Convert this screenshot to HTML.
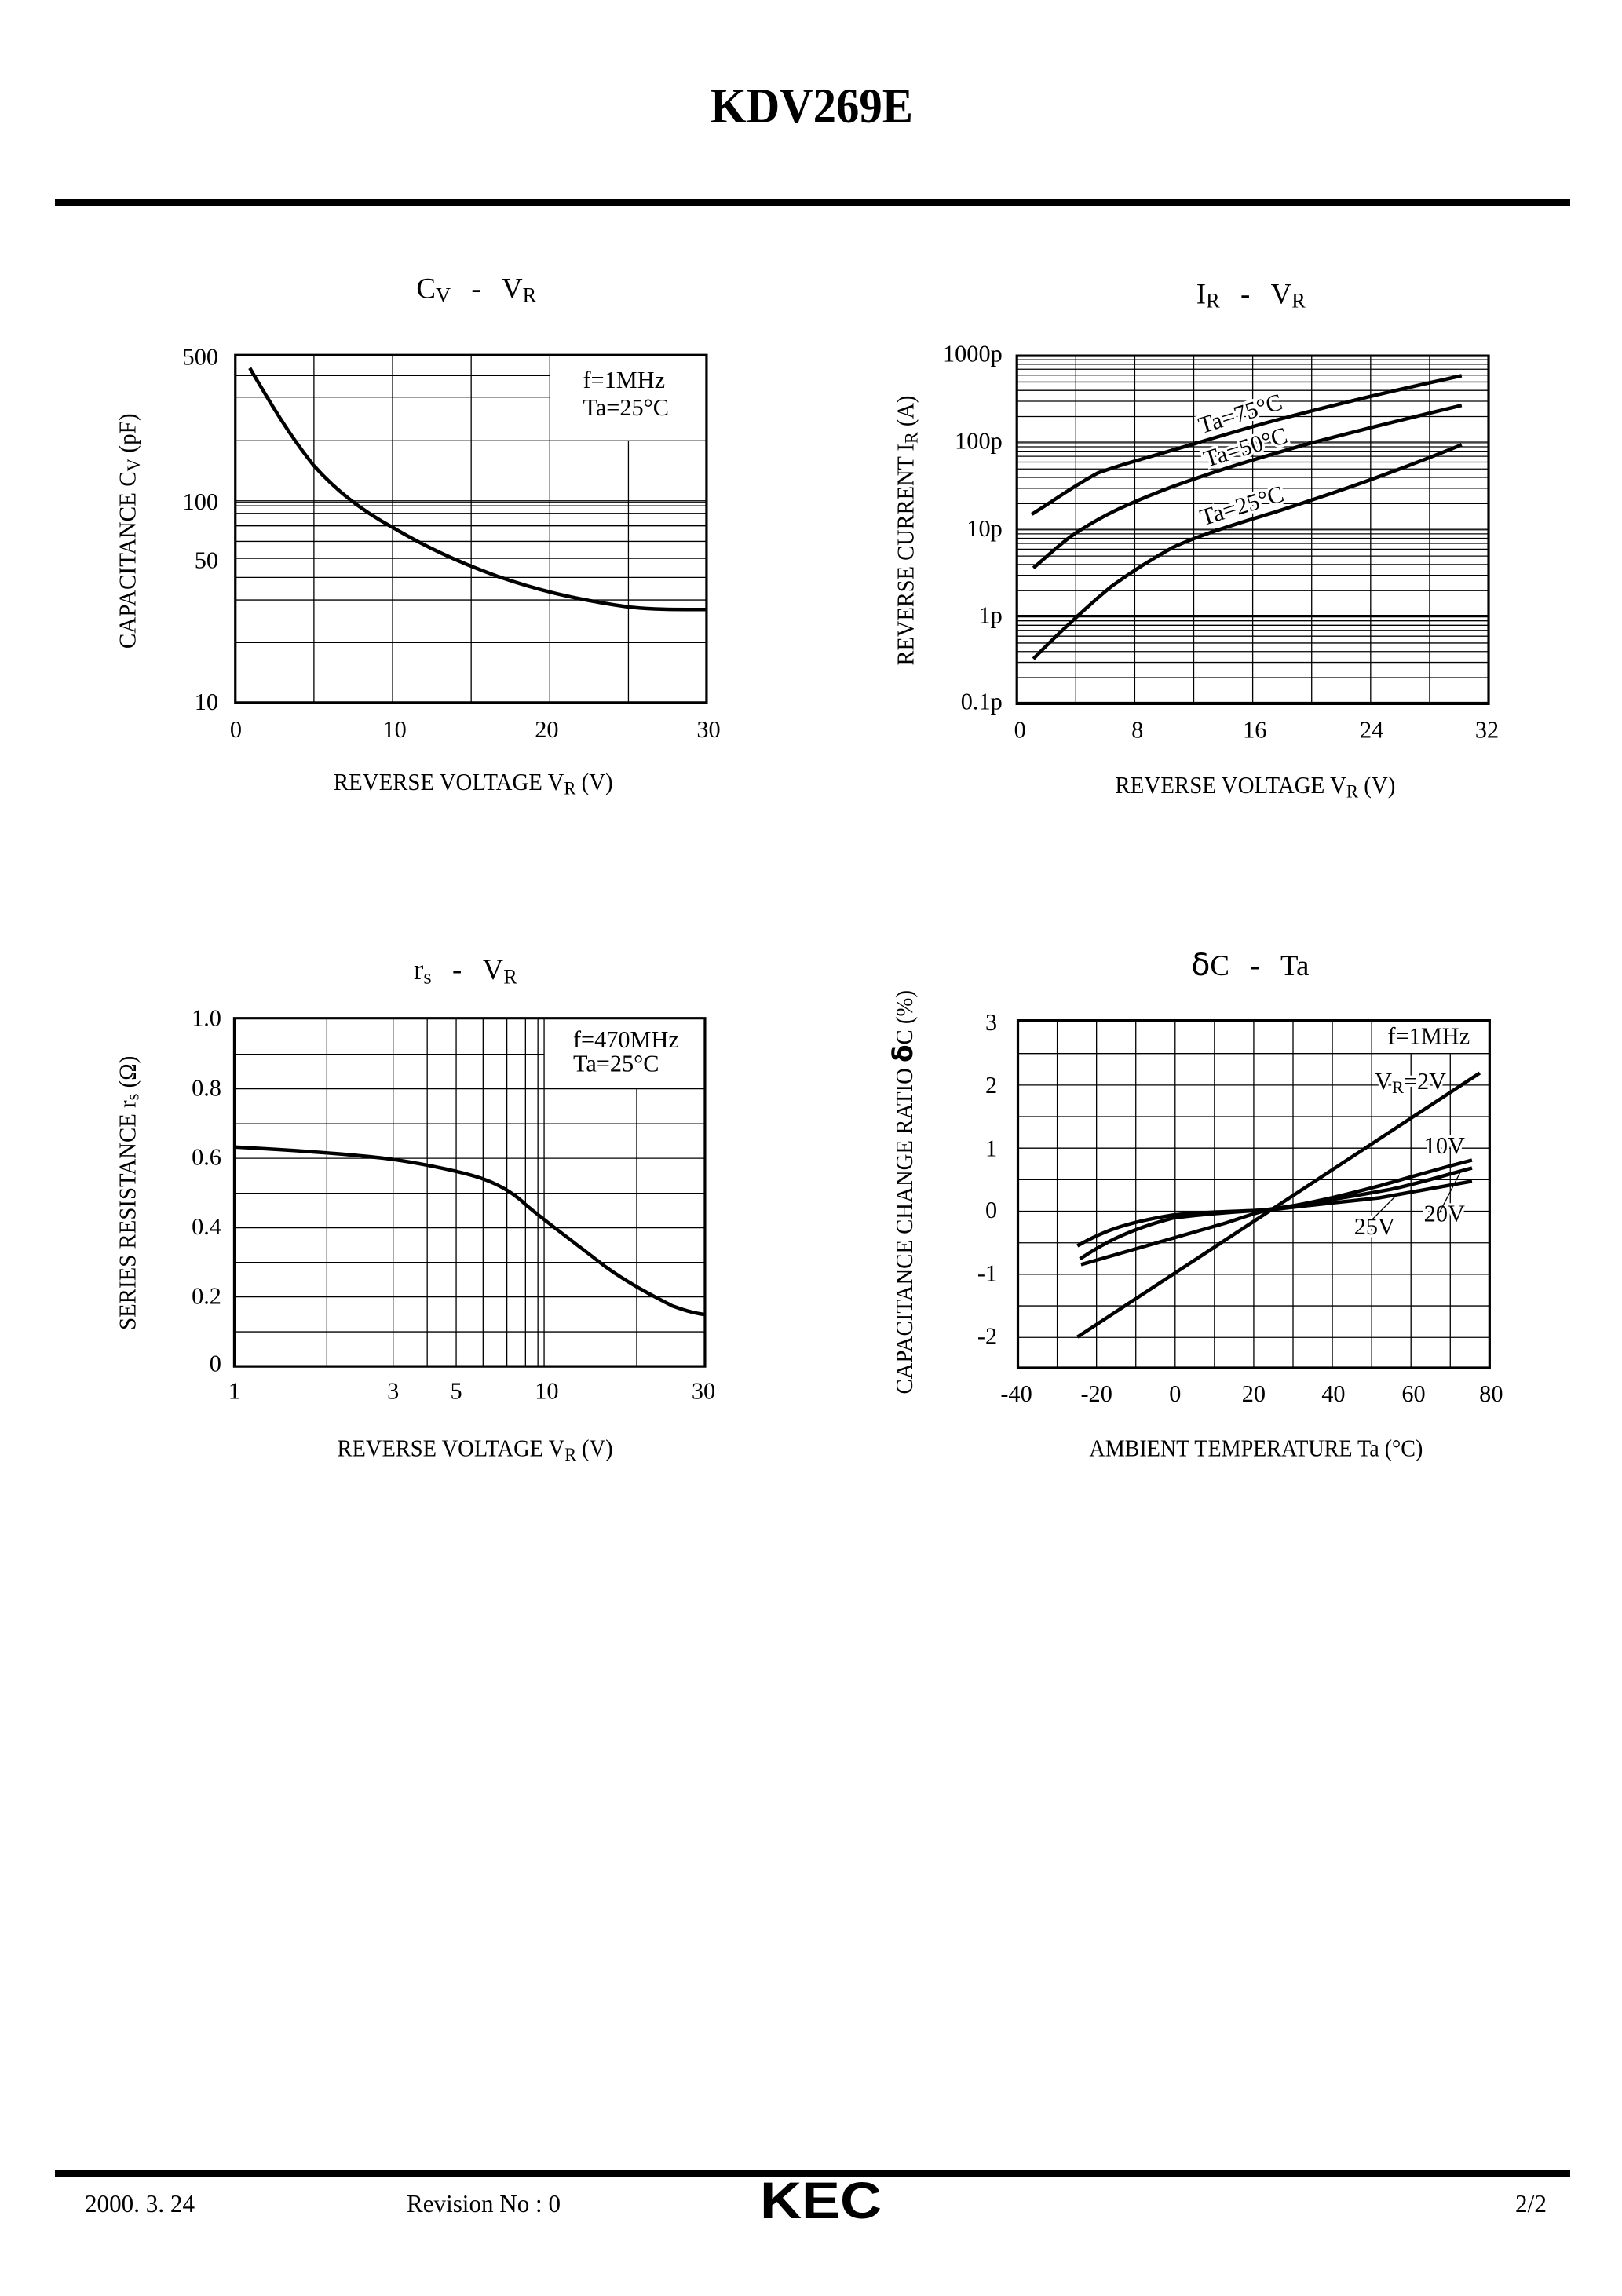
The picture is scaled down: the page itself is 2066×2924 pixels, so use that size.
<!DOCTYPE html>
<html><head><meta charset="utf-8"><style>
html,body{margin:0;padding:0;background:#fff}
svg{display:block}
text{font-family:"Liberation Serif",serif;fill:#000}
.g{stroke:#000;stroke-width:1.3;fill:none}
.b{stroke:#000;stroke-width:3.2;fill:none}
.c{stroke:#000;stroke-width:4.5;fill:none;stroke-linejoin:round}
.t{font-size:46px}
.w{stroke:#fff;stroke-width:10px;paint-order:stroke}
</style></head><body>
<svg width="2066" height="2924" viewBox="0 0 2066 2924" xmlns="http://www.w3.org/2000/svg">
<rect width="2066" height="2924" fill="#fff"/>
<text x="1034" y="156" font-size="64" font-weight="bold" text-anchor="middle" textLength="258" lengthAdjust="spacingAndGlyphs">KDV269E</text>
<rect x="70" y="253" width="1930" height="9" fill="#000"/>

<!-- Chart 1 geometry -->
<g transform="translate(0,0) scale(0.6588,0.6378)">
<g class="g">
<path vector-effect="non-scaling-stroke" d="M455 750H1063M455 793H1063M455 880H1366M455 1000H1366M455 1003H1366M455 1010H1366M455 1025H1366M455 1050H1366M455 1081H1366M455 1115H1366M455 1153H1366M455 1198H1366M455 1283H1366"/>
<path vector-effect="non-scaling-stroke" d="M607 709V1403M759 709V1403M911 709V1403M1063 709V1403M1215 880V1403"/>
</g>
<rect vector-effect="non-scaling-stroke" class="b" x="455" y="709" width="911" height="694"/>
<path vector-effect="non-scaling-stroke" class="c" d="M483 735 C 520 800, 560 870, 607 930 C 650 980, 700 1020, 759 1053 C 820 1090, 880 1120, 960 1150 C 1030 1175, 1100 1195, 1215 1212 C 1270 1218, 1320 1217, 1366 1217"/>
</g>
<g transform="translate(0,0) scale(0.6588)">
<text x="805" y="576" font-size="56">C<tspan font-size="40" dy="8">V</tspan><tspan dy="-8" dx="40">-</tspan><tspan dx="40">V</tspan><tspan font-size="40" dy="8">R</tspan></text>
<text class="t" x="1127" y="750">f=1MHz</text>
<text class="t" x="1127" y="803">Ta=25°C</text>
<g class="t" text-anchor="end">
<text x="422" y="705">500</text><text x="422" y="985">100</text><text x="422" y="1098">50</text><text x="422" y="1372">10</text></g>
<g class="t" text-anchor="middle">
<text x="456" y="1425">0</text><text x="763" y="1425">10</text><text x="1057" y="1425">20</text><text x="1370" y="1425">30</text></g>
<text class="t" x="645" y="1527" textLength="540" lengthAdjust="spacingAndGlyphs">REVERSE VOLTAGE V<tspan font-size="36" dy="8">R</tspan><tspan dy="-8">  (V)</tspan></text>
<text class="t" transform="translate(262,1254) rotate(-90)" textLength="455" lengthAdjust="spacingAndGlyphs">CAPACITANCE C<tspan font-size="36" dy="8">V</tspan><tspan dy="-8">  (pF)</tspan></text>
</g>

<!-- Chart 2 geometry -->
<defs>
<g id="dec">
<path vector-effect="non-scaling-stroke" class="g" d="M398 0H1310M398 -4H1310M398 -69.8H1310M398 -110.6H1310M398 -139.5H1310M398 -162H1310M398 -180.3H1310M398 -195.8H1310M398 -209.3H1310M398 -221.1H1310"/>
</g>
</defs>
<g transform="translate(1033,300) scale(0.6588,0.4783)">
<use href="#dec" transform="translate(0,1247)"/>
<use href="#dec" transform="translate(0,1015.25)"/>
<use href="#dec" transform="translate(0,783.5)"/>
<use href="#dec" transform="translate(0,551.75)"/>
<path vector-effect="non-scaling-stroke" class="g" d="M512 320V1247M626 320V1247M740 320V1247M854 320V1247M968 320V1247M1082 320V1247M1196 320V1247"/>
<rect vector-effect="non-scaling-stroke" class="b" x="398" y="320" width="912" height="927"/>
<path vector-effect="non-scaling-stroke" class="c" d="M427 742 C 470 705, 510 665, 555 632 C 600 610, 640 595, 740 555 C 800 530, 860 505, 920 484 C 1000 455, 1100 420, 1258 373"/>
<path vector-effect="non-scaling-stroke" class="c" d="M430 885 C 460 850, 490 810, 520 785 C 560 750, 600 720, 700 668 C 760 638, 820 610, 960 555 C 1050 522, 1150 488, 1258 452"/>
<path vector-effect="non-scaling-stroke" class="c" d="M430 1127 C 470 1070, 540 980, 580 935 C 620 895, 660 860, 700 830 C 740 805, 780 785, 900 735 C 1000 690, 1100 645, 1258 557"/>
</g>
<g transform="translate(1033,300) scale(0.6588)">
<text x="745" y="131" font-size="56">I<tspan font-size="40" dy="8">R</tspan><tspan dy="-8" dx="40">-</tspan><tspan dx="40">V</tspan><tspan font-size="40" dy="8">R</tspan></text>
<g class="t w" font-size="44">
<text transform="translate(755,383) rotate(-17)">Ta=75°C</text>
<text transform="translate(765,448) rotate(-17)">Ta=50°C</text>
<text transform="translate(758,561) rotate(-17)">Ta=25°C</text></g>
<g class="t" text-anchor="end">
<text x="370" y="244">1000p</text><text x="370" y="412">100p</text><text x="370" y="581">10p</text><text x="370" y="749">1p</text><text x="370" y="916">0.1p</text></g>
<g class="t" text-anchor="middle">
<text x="404" y="971">0</text><text x="631" y="971">8</text><text x="858" y="971">16</text><text x="1084" y="971">24</text><text x="1307" y="971">32</text></g>
<text class="t" x="588" y="1078" textLength="542" lengthAdjust="spacingAndGlyphs">REVERSE VOLTAGE V<tspan font-size="36" dy="8">R</tspan><tspan dy="-8">  (V)</tspan></text>
<text class="t" transform="translate(198,831) rotate(-90)" textLength="522" lengthAdjust="spacingAndGlyphs">REVERSE CURRENT I<tspan font-size="36" dy="8">R</tspan><tspan dy="-8">  (A)</tspan></text>
</g>

<!-- Chart 3 geometry -->
<g transform="translate(0,1180) scale(0.6588,0.4783)">
<path vector-effect="non-scaling-stroke" class="g" d="M453 340H1052M453 432H1363M453 525H1363M453 617H1363M453 710H1363M453 802H1363M453 894H1363M453 986H1363M453 1079H1363"/>
<path vector-effect="non-scaling-stroke" class="g" d="M632 244V1171M760 244V1171M826 244V1171M882 244V1171M934 244V1171M980 244V1171M1016 244V1171M1040 244V1171M1052 244V1171M1231 432V1171"/>
<rect vector-effect="non-scaling-stroke" class="b" x="453" y="244" width="910" height="927"/>
<path vector-effect="non-scaling-stroke" class="c" d="M453 587 C 560 595, 680 605, 760 620 C 820 632, 900 655, 934 672 C 960 685, 990 705, 1016 740 C 1050 780, 1100 830, 1170 905 C 1210 945, 1250 975, 1300 1010 C 1330 1025, 1345 1030, 1363 1033"/>
</g>
<g transform="translate(0,1180) scale(0.6588)">
<text x="800" y="102" font-size="56">r<tspan font-size="40" dy="8">s</tspan><tspan dy="-8" dx="40">-</tspan><tspan dx="40">V</tspan><tspan font-size="40" dy="8">R</tspan></text>
<text class="t" x="1108" y="234">f=470MHz</text>
<text class="t" x="1108" y="280">Ta=25°C</text>
<g class="t" text-anchor="end">
<text x="428" y="192">1.0</text><text x="428" y="327">0.8</text><text x="428" y="461">0.6</text><text x="428" y="595">0.4</text><text x="428" y="729">0.2</text><text x="428" y="860">0</text></g>
<g class="t" text-anchor="middle">
<text x="453" y="913">1</text><text x="760" y="913">3</text><text x="882" y="913">5</text><text x="1057" y="913">10</text><text x="1360" y="913">30</text></g>
<text class="t" x="652" y="1024" textLength="533" lengthAdjust="spacingAndGlyphs">REVERSE VOLTAGE V<tspan font-size="36" dy="8">R</tspan><tspan dy="-8"> (V)</tspan></text>
<text class="t" transform="translate(262,780) rotate(-90)" textLength="530" lengthAdjust="spacingAndGlyphs">SERIES RESISTANCE r<tspan font-size="36" dy="6">s</tspan><tspan dy="-6">  (Ω)</tspan></text>
</g>

<!-- Chart 4 geometry -->
<g transform="translate(1033,1180) scale(0.6588,0.4783)">
<path vector-effect="non-scaling-stroke" class="g" d="M400 338H1312M400 422H1312M400 506H1312M400 590H1312M400 674H1312M400 758H1312M400 842H1312M400 926H1312M400 1010H1312M400 1094H1312"/>
<path vector-effect="non-scaling-stroke" class="g" d="M476 250V1175M552 250V1175M628 250V1175M704 250V1175M780 250V1175M856 250V1175M932 250V1175M1008 250V1175M1084 250V1175M1160 338V1175M1236 338V1175"/>
<rect vector-effect="non-scaling-stroke" class="b" x="400" y="250" width="912" height="925"/>
</g>
<g transform="translate(1033,1180) scale(0.6588)">
<g class="t w" font-size="44">
<text x="1115" y="227">f=1MHz</text>
<text x="1090" y="314">V<tspan font-size="34" dy="8">R</tspan><tspan dy="-8">=2V</tspan></text>
<text x="1185" y="439">10V</text>
<text x="1185" y="570">20V</text>
<text x="1050" y="595">25V</text></g>
</g>
<g transform="translate(1033,1180) scale(0.6588,0.4783)">
<path vector-effect="non-scaling-stroke" class="g" d="M1215 762L1255 655M1085 780L1130 718"/>
<path vector-effect="non-scaling-stroke" class="c" d="M515 1093L1293 390"/>
<path vector-effect="non-scaling-stroke" class="c" d="M515 850 C 560 815, 600 790, 700 768 C 760 760, 820 758, 880 755 C 960 740, 1030 715, 1100 690 C 1160 667, 1220 642, 1278 622"/>
<path vector-effect="non-scaling-stroke" class="c" d="M520 885 C 560 848, 610 808, 700 776 C 760 765, 820 760, 880 754 C 960 738, 1060 715, 1120 700 C 1180 682, 1230 660, 1278 643"/>
<path vector-effect="non-scaling-stroke" class="c" d="M522 900 C 600 868, 700 830, 800 790 C 840 772, 860 762, 880 756 C 960 742, 1050 730, 1100 722 C 1170 705, 1230 690, 1278 678"/>
</g>
<g transform="translate(1033,1180) scale(0.6588)">
<text x="735" y="94" font-size="56"><tspan font-family="DejaVu Sans" font-size="60">δ</tspan>C<tspan dx="40">-</tspan><tspan dx="40">Ta</tspan></text>
<g class="t" text-anchor="end">
<text x="360" y="200">3</text><text x="360" y="322">2</text><text x="360" y="444">1</text><text x="360" y="563">0</text><text x="360" y="685">-1</text><text x="360" y="807">-2</text></g>
<g class="t" text-anchor="middle">
<text x="397" y="918">-40</text><text x="552" y="918">-20</text><text x="704" y="918">0</text><text x="856" y="918">20</text><text x="1010" y="918">40</text><text x="1165" y="918">60</text><text x="1315" y="918">80</text></g>
<text class="t" x="538" y="1024" textLength="645" lengthAdjust="spacingAndGlyphs">AMBIENT TEMPERATURE Ta (°C)</text>
<text class="t" transform="translate(196,904) rotate(-90)" textLength="781" lengthAdjust="spacingAndGlyphs">CAPACITANCE CHANGE RATIO  <tspan font-family="DejaVu Sans" font-weight="bold" font-size="52">δ</tspan>C  (%)</text>
</g>

<!-- Footer -->
<rect x="70" y="2764" width="1930" height="8" fill="#000"/>
<text x="108" y="2817" font-size="32" textLength="140" lengthAdjust="spacingAndGlyphs">2000. 3. 24</text>
<text x="518" y="2817" font-size="32" textLength="196" lengthAdjust="spacingAndGlyphs">Revision No : 0</text>
<text x="968" y="2825" font-weight="bold" font-size="66" textLength="155" lengthAdjust="spacingAndGlyphs" style="font-family:'Liberation Sans',sans-serif">KEC</text>
<text x="1930" y="2817" font-size="32" textLength="40" lengthAdjust="spacingAndGlyphs">2/2</text>
</svg>
</body></html>
